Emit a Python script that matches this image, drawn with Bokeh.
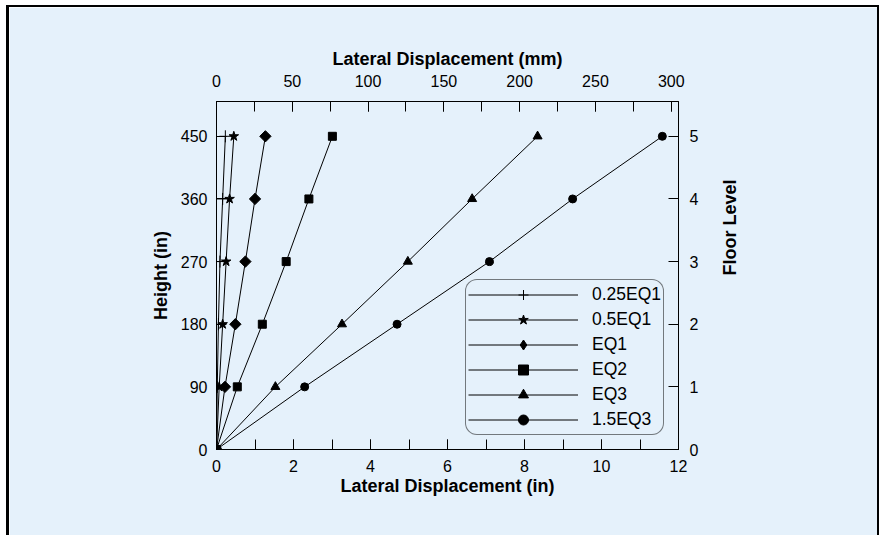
import math

from bokeh.plotting import figure
from bokeh.models import (LinearAxis, Range1d, FixedTicker, SingleIntervalTicker,
                          Legend, LegendItem)
from bokeh.embed import file_html
from bokeh.resources import INLINE

# Storey heights (in) and floor numbers
heights = [0, 90, 180, 270, 360, 450]
floor_levels = [0, 1, 2, 3, 4, 5]

# Lateral displacement envelopes (in) for each record scaling
disp_025eq1 = [0, 0.02, 0.05, 0.09, 0.16, 0.23]
disp_05eq1 = [0, 0.07, 0.16, 0.25, 0.34, 0.45]
disp_eq1 = [0, 0.22, 0.49, 0.75, 1.00, 1.27]
disp_eq2 = [0, 0.54, 1.19, 1.81, 2.40, 3.01]
disp_eq3 = [0, 1.53, 3.26, 4.97, 6.64, 8.34]
disp_15eq3 = [0, 2.29, 4.69, 7.09, 9.25, 11.58]

series_names = ["0.25EQ1", "0.5EQ1", "EQ1", "EQ2", "EQ3", "1.5EQ3"]
series_values = [disp_025eq1, disp_05eq1, disp_eq1, disp_eq2, disp_eq3, disp_15eq3]

BG = "#e5f1fb"
FONT = "Liberation Sans"
IN_TO_MM = 25.4

p = figure(width=873, height=530,
           x_range=Range1d(0, 12), y_range=Range1d(0, 500),
           x_axis_location=None, y_axis_location=None,
           output_backend="svg", toolbar_location=None,
           min_border_left=207, min_border_right=204,
           min_border_top=94, min_border_bottom=88,
           background_fill_color=BG, border_fill_color=BG,
           outline_line_color="black", outline_line_width=1)
p.xgrid.grid_line_color = None
p.ygrid.grid_line_color = None
p.extra_x_ranges = {"mm": Range1d(0, 12 * IN_TO_MM)}
p.extra_y_ranges = {"floor": Range1d(0, 500 / 90)}
p.styles = {"margin-left": "6px", "margin-top": "5px",
            "border-left": "3px solid black", "border-top": "2px solid black",
            "border-right": "2px solid black"}


def style_axis(ax, label_standoff, title_standoff):
    ax.axis_line_color = "black"
    ax.axis_line_width = 1
    ax.major_tick_in = 10
    ax.major_tick_out = 0
    ax.minor_tick_in = 10
    ax.minor_tick_out = 0
    ax.major_tick_line_color = "black"
    ax.minor_tick_line_color = "black"
    ax.major_label_text_font = FONT
    ax.major_label_text_font_size = "16px"
    ax.major_label_text_color = "black"
    ax.major_label_standoff = label_standoff
    ax.axis_label_text_font = FONT
    ax.axis_label_text_font_style = "bold"
    ax.axis_label_text_font_size = "18px"
    ax.axis_label_text_color = "black"
    ax.axis_label_standoff = title_standoff


bottom = LinearAxis(ticker=SingleIntervalTicker(interval=2, num_minor_ticks=2),
                    axis_label="Lateral Displacement (in)")
style_axis(bottom, 10, 1)
p.add_layout(bottom, "below")

top = LinearAxis(x_range_name="mm",
                 ticker=SingleIntervalTicker(interval=50, num_minor_ticks=2),
                 axis_label="Lateral Displacement (mm)")
style_axis(top, 15, 3)
p.add_layout(top, "above")

left = LinearAxis(ticker=FixedTicker(ticks=heights), axis_label="Height (in)")
style_axis(left, 9, 7)
p.add_layout(left, "left")

right = LinearAxis(y_range_name="floor", ticker=FixedTicker(ticks=floor_levels),
                   axis_label="Floor Level")
style_axis(right, 11, 29)
right.axis_label_orientation = math.pi / 2
p.add_layout(right, "right")

markers = ["cross", "star", "square", "square", "triangle", "circle"]
angles = [0, 0, math.pi / 4, 0, 0, 0]
sizes = [12, 10, 8, 8, 9, 8]
legend_markers = ["cross", "star", "diamond", "square", "triangle", "circle"]

items = []
for name, vals, mk, ang, sz, lmk in zip(series_names, series_values, markers,
                                        angles, sizes, legend_markers):
    ln = p.line(vals, heights, line_color="black", line_width=1)
    key = None
    if lmk != mk:
        # diamond swatch for the legend, sitting under the rotated squares
        key = p.scatter(vals, heights, marker=lmk, size=7,
                        line_color="black", fill_color="black", line_width=1)
    sc = p.scatter(vals, heights, marker=mk, size=sz, angle=ang,
                   line_color="black", fill_color="black", line_width=1)
    items.append(LegendItem(label=name, renderers=[ln, key or sc]))

legend = Legend(items=items, location=(249, 14),
                glyph_width=110, glyph_height=25, label_height=25,
                spacing=0, padding=2, margin=0, label_standoff=14,
                label_text_font=FONT, label_text_font_size="17.5px",
                label_text_color="black",
                border_line_color="black", border_line_width=1.5,
                background_fill_color=BG, background_fill_alpha=1)
try:
    legend.border_radius = 12
except Exception:
    pass
p.add_layout(legend)

open("out.html", "w").write(file_html(p, INLINE))
